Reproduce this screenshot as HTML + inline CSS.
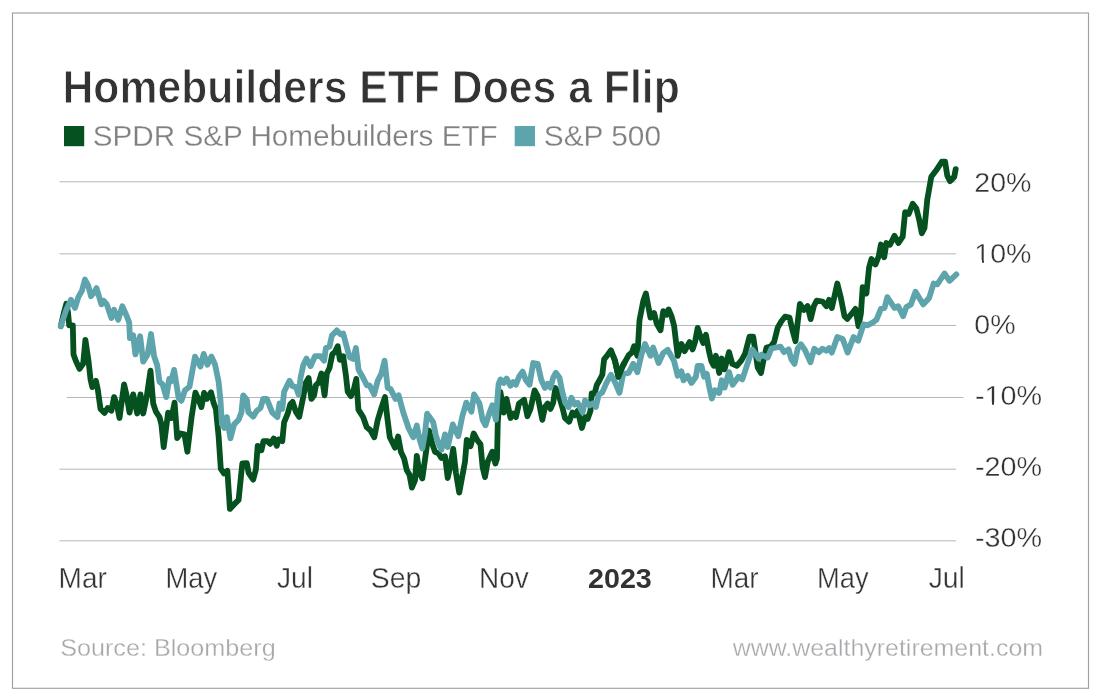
<!DOCTYPE html>
<html lang="en"><head><meta charset="utf-8">
<title>Homebuilders ETF Does a Flip</title>
<style>
html,body{margin:0;padding:0;background:#ffffff;}
body{width:1100px;height:700px;overflow:hidden;}
svg{display:block;}
text{font-family:"Liberation Sans",Arial,Helvetica,sans-serif;}
</style></head><body>
<svg width="1100" height="700" viewBox="0 0 1100 700" style="will-change:transform">
<rect x="0" y="0" width="1100" height="700" fill="#ffffff"/>
<rect x="12.5" y="13.0" width="1076.0" height="675.3" fill="none" stroke="#9ea0a4" stroke-width="1.15"/>
<g stroke="#b4b6ba" stroke-width="1.0" fill="none">
<line x1="59.4" y1="181.8" x2="956.0" y2="181.8"/>
<line x1="59.4" y1="253.85" x2="956.0" y2="253.85"/>
<line x1="59.4" y1="325.45" x2="956.0" y2="325.45"/>
<line x1="66.8" y1="397.5" x2="963.4" y2="397.5"/>
<line x1="59.4" y1="469.2" x2="956.0" y2="469.2"/>
<line x1="59.4" y1="540.85" x2="956.0" y2="540.85"/>
</g>
<path d="M60.8,326.2 L63.5,314.3 L66.3,303.8 L68.0,312.3 L69.2,325.3 L72.8,325.3 L73.5,354.4 L76.0,361.3 L79.5,368.9 L83.2,363.5 L85.4,339.8 L88.6,361.7 L90.5,379.3 L92.3,387.1 L95.9,380.8 L97.7,388.9 L100.5,408.9 L104.5,412.9 L107.7,408.0 L111.4,410.8 L114.1,397.1 L116.8,404.4 L119.5,418.0 L124.1,384.4 L126.8,396.2 L129.5,412.6 L133.2,394.4 L137.2,413.5 L140.5,394.4 L143.2,413.5 L146.8,396.2 L150.5,370.7 L153.2,403.5 L155.9,411.7 L159.5,417.1 L161.4,424.4 L163.7,447.1 L168.1,412.6 L171.4,418.0 L174.6,402.6 L177.2,438.0 L180.5,433.5 L184.5,434.4 L187.4,451.7 L191.7,416.2 L195.4,392.6 L198.6,399.8 L201.4,407.1 L204.1,392.9 L206.8,398.9 L211.0,392.2 L213.5,402.6 L215.9,408.9 L218.6,436.2 L220.8,468.9 L224.1,473.5 L227.4,470.8 L229.9,508.9 L234.1,504.4 L238.6,499.9 L242.3,463.5 L246.8,463.2 L248.6,472.8 L253.2,479.6 L255.9,469.4 L257.7,445.8 L261.4,450.3 L263.5,441.2 L267.7,441.2 L270.1,443.9 L273.7,438.5 L276.8,445.8 L278.6,439.4 L282.3,441.2 L284.1,422.3 L287.7,413.7 L290.3,404.3 L292.6,401.9 L295.9,411.9 L299.2,416.9 L303.2,397.1 L305.9,382.6 L308.6,378.0 L311.4,398.9 L314.1,395.3 L315.9,385.3 L318.6,382.6 L321.4,373.5 L324.6,395.3 L326.8,373.5 L329.5,368.0 L332.3,354.4 L335.0,351.7 L337.7,346.2 L339.9,359.8 L343.2,356.2 L345.9,375.3 L347.7,391.7 L350.8,396.2 L353.7,389.8 L356.3,378.9 L358.4,409.6 L363.2,417.3 L366.7,427.3 L370.3,430.1 L374.3,437.3 L377.6,420.5 L381.4,407.8 L385.0,397.1 L387.4,418.3 L389.8,437.3 L392.3,442.3 L395.0,447.6 L398.1,436.5 L401.0,452.1 L404.1,458.5 L406.8,470.3 L409.5,474.8 L411.9,487.6 L415.0,480.3 L416.8,455.8 L419.5,473.0 L422.3,478.5 L425.9,453.0 L429.0,430.5 L432.3,443.9 L435.0,451.8 L438.6,453.5 L441.4,458.0 L445.0,456.2 L447.7,478.0 L450.5,465.3 L453.2,448.9 L455.9,472.6 L459.2,492.6 L462.3,476.2 L465.0,461.7 L466.8,439.8 L470.5,446.2 L473.7,433.5 L477.7,440.8 L480.5,444.4 L482.6,467.1 L485.0,477.1 L487.7,461.7 L492.3,451.7 L495.4,463.5 L497.0,458.6 L497.8,421.7 L500.4,391.9 L503.7,412.6 L506.5,398.9 L510.5,418.0 L513.2,413.5 L515.9,417.1 L519.0,403.5 L524.1,399.8 L527.4,416.2 L530.5,408.9 L534.6,390.4 L537.7,396.2 L542.3,419.8 L545.0,407.1 L547.7,403.5 L550.5,408.9 L553.2,402.6 L555.4,388.0 L558.6,394.4 L562.3,407.1 L565.0,418.0 L569.2,421.7 L572.3,412.6 L575.0,415.3 L577.7,410.8 L581.9,428.0 L585.0,417.1 L587.7,418.9 L590.5,410.8 L591.7,393.5 L594.6,393.5 L596.8,385.0 L599.5,380.3 L602.3,374.8 L604.1,359.4 L607.7,354.8 L611.0,350.3 L615.0,360.8 L618.5,376.8 L622.3,366.8 L625.5,360.8 L628.6,355.3 L631.9,352.5 L634.1,346.3 L637.4,355.8 L639.5,320.3 L643.2,301.3 L645.9,293.5 L648.3,306.3 L650.5,317.6 L654.1,313.0 L656.8,323.9 L660.5,330.3 L663.2,311.2 L666.5,314.8 L668.6,309.4 L671.4,315.8 L674.1,325.8 L676.8,348.5 L677.7,355.8 L681.4,343.9 L684.6,351.2 L689.5,342.1 L692.6,349.4 L695.0,342.1 L697.7,327.9 L699.9,334.8 L703.2,343.0 L705.9,334.8 L709.0,351.2 L711.4,361.2 L713.7,365.8 L715.9,355.8 L719.2,373.0 L721.7,358.5 L724.6,369.4 L729.0,352.1 L732.3,363.9 L736.8,365.8 L741.4,360.3 L745.0,353.9 L749.5,336.7 L753.2,336.7 L755.9,354.8 L757.7,367.6 L761.0,373.0 L763.5,360.3 L766.5,347.6 L770.5,346.7 L774.1,342.1 L777.7,327.6 L781.4,321.2 L785.0,316.7 L789.5,317.6 L792.3,329.4 L795.5,341.2 L797.7,322.1 L799.9,303.9 L803.8,310.0 L807.6,306.0 L810.7,319.1 L813.8,306.3 L816.6,300.7 L822.5,301.5 L826.4,306.2 L829.1,299.8 L831.8,308.0 L834.5,296.2 L837.3,283.5 L840.9,298.0 L844.5,316.2 L847.3,318.9 L851.8,313.5 L855.5,308.9 L858.5,326.2 L860.9,313.5 L862.7,287.1 L866.4,293.5 L869.1,267.3 L871.5,259.0 L875.5,264.5 L878.8,256.0 L880.9,244.5 L884.2,257.3 L886.4,243.0 L890.0,244.8 L894.5,235.8 L898.5,243.0 L902.7,236.7 L905.1,212.2 L908.7,214.0 L912.7,203.8 L916.4,208.6 L919.1,219.4 L921.8,233.3 L924.5,227.9 L927.3,199.4 L931.3,176.7 L936.4,170.1 L941.8,161.7 L945.1,161.7 L947.3,175.8 L950.0,181.1 L954.2,176.9 L955.7,169.1" fill="none" stroke="#05511f" stroke-width="5.8" stroke-linejoin="round" stroke-linecap="round"/>
<path d="M60.8,326.2 L65.9,310.8 L71.0,299.8 L75.0,308.0 L78.3,297.1 L81.9,290.8 L85.0,279.5 L88.1,285.3 L91.0,296.2 L94.1,292.6 L96.5,288.0 L101.4,304.4 L103.7,300.8 L106.8,304.4 L111.4,318.0 L114.1,309.8 L118.3,319.8 L122.3,306.2 L126.8,316.2 L129.2,322.6 L129.9,338.0 L133.2,335.3 L135.4,354.4 L140.1,336.2 L143.2,361.7 L147.7,354.4 L151.0,334.0 L154.1,356.2 L157.2,365.3 L159.5,381.7 L162.6,384.4 L166.3,397.1 L169.2,378.9 L171.2,381.3 L174.1,369.9 L178.6,398.0 L181.4,400.8 L185.0,390.3 L189.5,386.8 L195.0,356.6 L200.5,366.5 L203.7,353.9 L207.4,364.7 L211.4,356.5 L215.0,364.5 L218.6,381.7 L220.5,400.3 L221.9,424.4 L224.5,428.0 L226.8,417.1 L230.5,438.4 L234.1,424.4 L238.6,419.8 L241.4,412.6 L243.2,395.3 L246.8,399.8 L248.3,412.1 L253.2,416.6 L256.8,410.8 L260.5,408.0 L263.2,398.9 L266.8,398.9 L272.3,412.6 L277.4,417.1 L279.5,403.5 L282.3,408.9 L284.1,391.7 L289.5,380.8 L292.6,386.2 L295.9,387.1 L298.6,394.4 L300.5,378.0 L303.2,365.3 L306.5,358.6 L310.5,366.2 L315.0,356.2 L320.5,356.2 L324.1,360.8 L325.9,348.0 L329.5,346.6 L331.9,335.5 L336.8,330.4 L340.5,334.3 L343.2,333.5 L346.8,347.1 L349.5,357.1 L353.2,358.9 L355.9,348.0 L358.6,369.8 L363.2,378.0 L366.8,385.3 L369.5,385.3 L374.1,394.4 L377.7,380.8 L381.4,373.5 L384.6,360.8 L387.7,388.0 L390.5,388.9 L395.5,398.9 L398.6,395.3 L403.2,412.3 L408.6,428.3 L413.2,437.3 L416.8,425.5 L419.5,439.1 L422.3,448.5 L425.0,433.0 L427.1,413.7 L433.2,422.3 L435.9,435.3 L438.5,443.3 L441.4,449.8 L445.0,434.4 L447.7,447.1 L452.8,424.4 L458.3,436.2 L462.3,416.2 L466.3,402.6 L471.4,411.7 L474.1,394.4 L479.5,403.5 L482.6,419.8 L485.5,425.3 L489.2,413.5 L492.3,405.3 L495.9,419.8 L497.7,394.6 L498.6,383.9 L500.5,379.4 L503.7,383.0 L506.5,378.5 L510.5,385.8 L513.2,382.1 L515.9,384.8 L519.0,376.7 L522.6,371.6 L525.9,380.3 L529.5,384.8 L533.2,363.0 L537.7,363.9 L541.4,380.3 L545.0,387.9 L547.7,383.9 L550.5,387.6 L553.2,377.6 L555.9,372.7 L559.5,377.6 L562.3,391.8 L565.2,402.8 L568.6,407.3 L571.4,397.8 L574.6,404.6 L577.7,402.8 L582.6,412.3 L585.0,400.5 L589.5,405.5 L593.2,403.3 L595.9,406.9 L598.6,395.0 L602.3,392.3 L606.8,382.1 L611.0,374.8 L615.0,382.1 L619.5,392.8 L623.2,373.9 L628.6,373.0 L633.2,363.9 L637.4,372.1 L641.4,354.8 L645.0,343.9 L650.5,355.8 L653.2,347.6 L658.6,363.0 L663.2,353.0 L667.7,349.8 L674.1,361.2 L677.7,375.8 L681.4,371.2 L683.5,380.3 L687.7,375.8 L691.4,383.0 L695.9,376.7 L697.7,365.8 L701.4,365.8 L704.1,376.7 L706.8,373.9 L709.0,385.8 L711.9,398.5 L715.0,390.3 L719.2,393.0 L721.7,380.3 L724.6,387.6 L729.0,372.1 L732.6,384.8 L738.6,376.7 L742.3,379.4 L746.8,365.8 L752.3,349.4 L758.6,358.5 L761.4,354.8 L767.7,357.6 L771.4,348.5 L780.5,346.7 L784.1,352.1 L788.6,349.4 L791.4,359.4 L794.5,363.9 L797.7,348.5 L801.0,344.3 L805.0,350.1 L810.5,362.3 L814.3,348.7 L818.8,352.3 L822.5,348.7 L826.4,350.8 L829.1,348.0 L831.8,352.6 L837.3,337.1 L842.7,338.9 L847.6,352.6 L853.6,337.1 L858.2,340.8 L863.6,324.4 L867.3,325.3 L872.7,322.6 L876.4,319.8 L880.9,308.9 L884.5,308.0 L887.3,297.1 L894.5,308.0 L898.2,306.2 L903.1,316.2 L906.4,307.1 L910.9,304.4 L915.5,291.7 L923.3,304.4 L929.1,298.0 L933.6,283.5 L937.3,284.4 L944.5,273.5 L949.5,280.8 L956.4,274.4" fill="none" stroke="#5ea4ad" stroke-width="5.8" stroke-linejoin="round" stroke-linecap="round"/>
<path d="M613.0,355.6 L615.0,360.8 L618.5,376.8 L622.3,366.8 L624.5,362.7" fill="none" stroke="#05511f" stroke-width="5.8" stroke-linejoin="round" stroke-linecap="butt"/>
<rect x="64.0" y="126.0" width="20.2" height="20.2" fill="#05511f"/>
<rect x="514.7" y="126.0" width="20.3" height="20.2" fill="#5ea4ad"/>
<text id="t0" transform="translate(62.47,102.60) scale(0.9303,1)" font-size="45.94" font-weight="bold" fill="#333333" stroke="#ffffff" stroke-width="0.9">Homebuilders ETF Does a Flip</text>
<text id="t1" transform="translate(92.80,146.20) scale(0.9792,1)" font-size="30.29" font-weight="normal" fill="#808080" stroke="#ffffff" stroke-width="0.25">SPDR S&amp;P Homebuilders ETF</text>
<text id="t2" transform="translate(543.80,146.20) scale(0.9853,1)" font-size="30.29" font-weight="normal" fill="#808080" stroke="#ffffff" stroke-width="0.25">S&amp;P 500</text>
<text id="t3" transform="translate(974.33,191.80) scale(1.0043,1)" font-size="28.43" font-weight="normal" fill="#333333" stroke="#ffffff" stroke-width="0.35">20%</text>
<text id="t4" transform="translate(974.33,262.84) scale(1.0043,1)" font-size="28.43" font-weight="normal" fill="#333333" stroke="#ffffff" stroke-width="0.35">10%</text>
<text id="t5" transform="translate(974.33,333.88) scale(1.0043,1)" font-size="28.43" font-weight="normal" fill="#333333" stroke="#ffffff" stroke-width="0.35">0%</text>
<text id="t6" transform="translate(975.00,404.92) scale(1.0126,1)" font-size="28.43" font-weight="normal" fill="#333333" stroke="#ffffff" stroke-width="0.35">-10%</text>
<text id="t7" transform="translate(975.00,475.96) scale(1.0126,1)" font-size="28.43" font-weight="normal" fill="#333333" stroke="#ffffff" stroke-width="0.35">-20%</text>
<text id="t8" transform="translate(975.00,547.00) scale(1.0126,1)" font-size="28.43" font-weight="normal" fill="#333333" stroke="#ffffff" stroke-width="0.35">-30%</text>
<text id="t9" transform="translate(58.60,587.60) scale(0.9719,1)" font-size="28.79" font-weight="normal" fill="#333333" stroke="#ffffff" stroke-width="0.35">Mar</text>
<text id="t10" transform="translate(165.50,587.60) scale(0.9508,1)" font-size="28.79" font-weight="normal" fill="#333333" stroke="#ffffff" stroke-width="0.35">May</text>
<text id="t11" transform="translate(276.93,587.60) scale(0.9784,1)" font-size="28.79" font-weight="normal" fill="#333333" stroke="#ffffff" stroke-width="0.35">Jul</text>
<text id="t12" transform="translate(370.70,587.60) scale(0.9869,1)" font-size="28.79" font-weight="normal" fill="#333333" stroke="#ffffff" stroke-width="0.35">Sep</text>
<text id="t13" transform="translate(479.00,587.60) scale(0.9710,1)" font-size="28.79" font-weight="normal" fill="#333333" stroke="#ffffff" stroke-width="0.35">Nov</text>
<text id="t14" transform="translate(588.00,587.60) scale(1.0232,1)" font-size="28.05" font-weight="bold" fill="#333333">2023</text>
<text id="t15" transform="translate(710.40,587.60) scale(0.9712,1)" font-size="28.79" font-weight="normal" fill="#333333" stroke="#ffffff" stroke-width="0.35">Mar</text>
<text id="t16" transform="translate(817.07,587.60) scale(0.9469,1)" font-size="28.79" font-weight="normal" fill="#333333" stroke="#ffffff" stroke-width="0.35">May</text>
<text id="t17" transform="translate(928.63,587.60) scale(0.9853,1)" font-size="28.79" font-weight="normal" fill="#333333" stroke="#ffffff" stroke-width="0.35">Jul</text>
<text id="t18" transform="translate(60.17,656.00) scale(1.0182,1)" font-size="24.74" font-weight="normal" fill="#a6a8ab" stroke="#ffffff" stroke-width="0.3">Source: Bloomberg</text>
<text id="t19" transform="translate(732.63,656.00) scale(1.0086,1)" font-size="24.74" font-weight="normal" fill="#a6a8ab" stroke="#ffffff" stroke-width="0.3">www.wealthyretirement.com</text>
<rect x="975.5" y="260.2" width="6.5" height="3.8" fill="#ffffff"/>
<rect x="984.0" y="260.2" width="5.5" height="3.8" fill="#ffffff"/>
<rect x="985.5" y="402.2" width="6.5" height="3.8" fill="#ffffff"/>
<rect x="994.0" y="402.2" width="6.5" height="3.8" fill="#ffffff"/>
</svg></body></html>
